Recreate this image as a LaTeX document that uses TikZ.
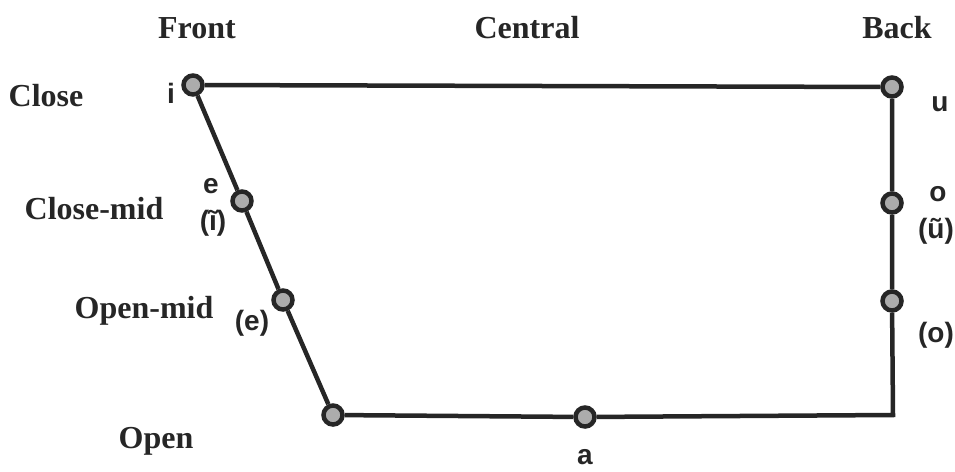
\documentclass[tikz,border=0pt]{standalone}
\usepackage{fontspec}
\setmainfont{Liberation Serif}
\newfontfamily\vowelfont{Liberation Sans}
\usepackage{tikz}
\usetikzlibrary{positioning}

\begin{document}
\begin{tikzpicture}[x=1pt, y=-1pt,
    vowel/.style={circle, draw=black!85, line width=4.5pt, fill=gray!65, minimum size=19pt, inner sep=0pt},
    sym/.style={anchor=base, font=\vowelfont\bfseries\fontsize{28}{30}\selectfont, text=black!85},
    head/.style={anchor=base, font=\bfseries\fontsize{32}{34}\selectfont, text=black!85}]
    \useasboundingbox (0,0) rectangle (955,471);

    % Vowel points
    \node[vowel] (i) at (193,85) {};
    \node[vowel] (u) at (892,87) {};
    \node[vowel] (e) at (242,201) {};
    \node[vowel] (eo) at (283,300) {};
    \node[vowel] (bl) at (333,415) {};
    \node[vowel] (a) at (585,417) {};
    \node[vowel] (o) at (892,203) {};
    \node[vowel] (oo) at (892,301) {};
    \coordinate (br) at (893,415);

    % Outline
    \draw[line width=4.5pt, draw=black!85] (i) -- (u);
    \draw[line width=4.5pt, draw=black!85] (i) -- (e) -- (eo) -- (bl);
    \draw[line width=4.5pt, draw=black!85, line join=miter] (u) -- (o) -- (oo) -- (br) -- (a) -- (bl);

    % Headings
    \node[head] (front) at (197,38) {Front};
    \node[head] (central) at (527,38) {Central};
    \node[head] (back) at (897,38) {Back};
    \node[head] (close) at (46,106) {Close};
    \node[head] (closemid) at (94,219) {Close-mid};
    \node[head] (openmid) at (144,318) {Open-mid};
    \node[head] (open) at (156,448) {Open};

    % Vowel labels
    \node[sym] (li) at (171,103) {i};
    \node[sym] (le) at (211,193) {e};
    \node[sym] (lit) at (213,230) {(ĩ)};
    \node[sym] (leo) at (252,330) {(e)};
    \node[sym] (lu) at (940,111) {u};
    \node[sym] (lo) at (938,201) {o};
    \node[sym] (lut) at (936,238) {(ũ)};
    \node[sym] (loo) at (936,342) {(o)};
    \node[sym] (la) at (585,464) {a};
\end{tikzpicture}
\end{document}
